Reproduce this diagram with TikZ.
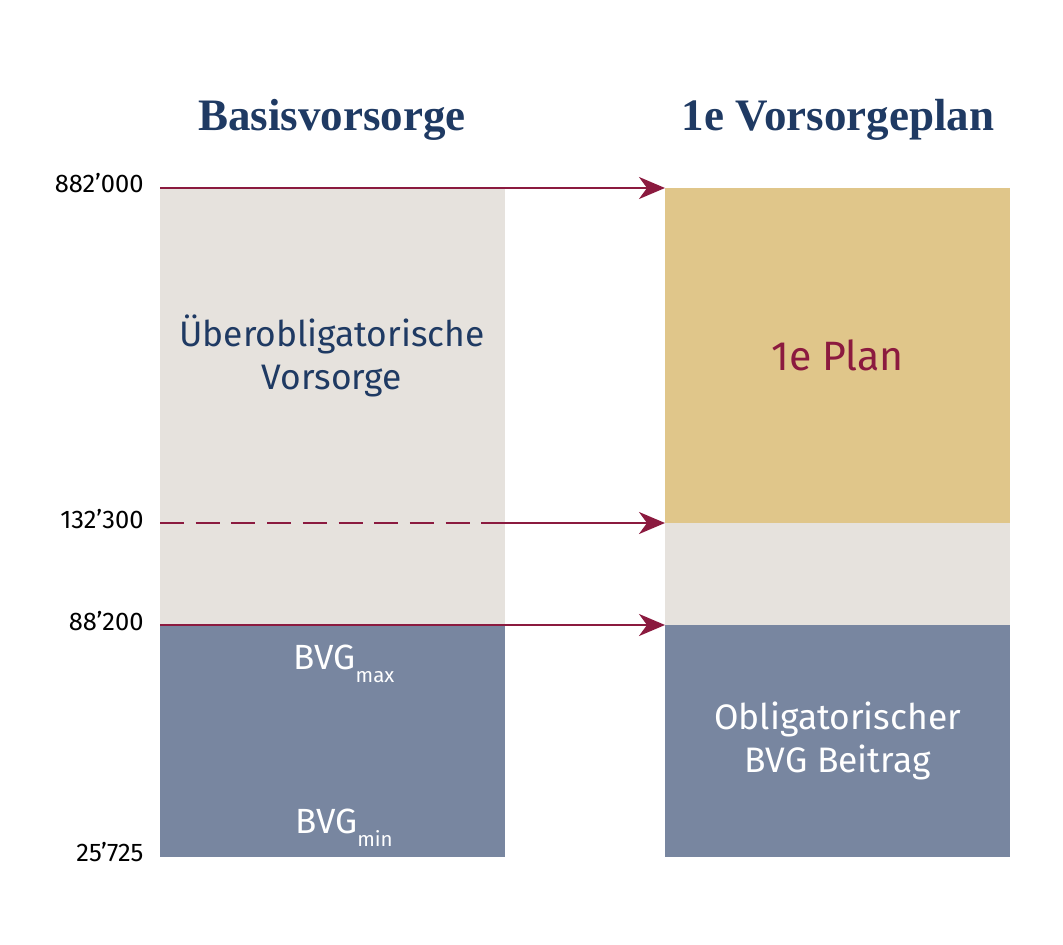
\documentclass[tikz,border=0pt]{standalone}
\usepackage{fontspec}
\setmainfont{Fira Sans}
\newfontfamily\titlefont{Liberation Serif}
\usetikzlibrary{arrows.meta}
\definecolor{sand}{HTML}{E6E2DD}
\definecolor{gold}{HTML}{E0C68A}
\definecolor{slate}{HTML}{7886A0}
\definecolor{wine}{HTML}{8B1A3F}
\definecolor{navy}{HTML}{1F3A63}

\begin{document}
\begin{tikzpicture}[x=1pt, y=-1pt,
    block/.style={anchor=north west, inner sep=0pt, minimum width=345pt},
    title/.style={font=\titlefont\bfseries\fontsize{45}{50}\selectfont, text=navy, anchor=base},
    tick/.style={font=\fontsize{25.5}{30}\selectfont, anchor=base east},
    label/.style={font=\fontsize{35.4}{43}\selectfont, align=center},
    link/.style={wine, line width=2.5pt, -{Stealth[length=26pt, width=22pt, inset=8pt]}},
    linkline/.style={wine, line width=2.5pt}]
  \useasboundingbox (0,0) rectangle (1063,945);
  % left column
  \node[block, fill=sand, minimum height=437pt] (uebl) at (160,188) {};
  \node[block, fill=slate, minimum height=232pt] (bvgl) at (160,625) {};
  % right column
  \node[block, fill=gold, minimum height=335pt, font=\fontsize{41}{46}\selectfont, text=wine] (plan) at (665,188) {1e Plan};
  \node[block, fill=sand, minimum height=102pt] (midr) at (665,523) {};
  \node[block, fill=slate, minimum height=232pt, label, text=white] (bvgr) at (665,625) {Obligatorischer\\BVG Beitrag};
  % titles
  \node[title] (titlel) at (332,130) {Basisvorsorge};
  \node[title] (titler) at (838,130) {1e Vorsorgeplan};
  % texts
  \node[label, text=navy] (uebtext) at (332,356) {Überobligatorische\\Vorsorge};
  \node[font=\fontsize{35}{40}\selectfont, text=white, anchor=base] (bvgmax) at (344,669)
    {BVG\raisebox{-13pt}{\fontsize{20.5}{20}\selectfont max}};
  \node[font=\fontsize{35}{40}\selectfont, text=white, anchor=base] (bvgmin) at (344,833)
    {BVG\raisebox{-13pt}{\fontsize{20.5}{20}\selectfont min}};
  % values
  \node[tick] (v1) at (147,192) {882’000};
  \node[tick] (v2) at (147,528) {132’300};
  \node[tick] (v3) at (147,630) {88’200};
  \node[tick] (v4) at (147,861) {25’725};
  % arrows
  \coordinate (dashstart) at (uebl.west |- midr.north west);
  \coordinate (dashend) at (uebl.east |- midr.north west);
  \draw[link] (uebl.north west) -- (plan.north west);
  \draw[linkline, dash pattern=on 24pt off 11.7pt] (dashstart) -- (dashend);
  \draw[link] (dashend) -- (midr.north west);
  \draw[link] (bvgl.north west) -- (bvgr.north west);
\end{tikzpicture}
\end{document}
